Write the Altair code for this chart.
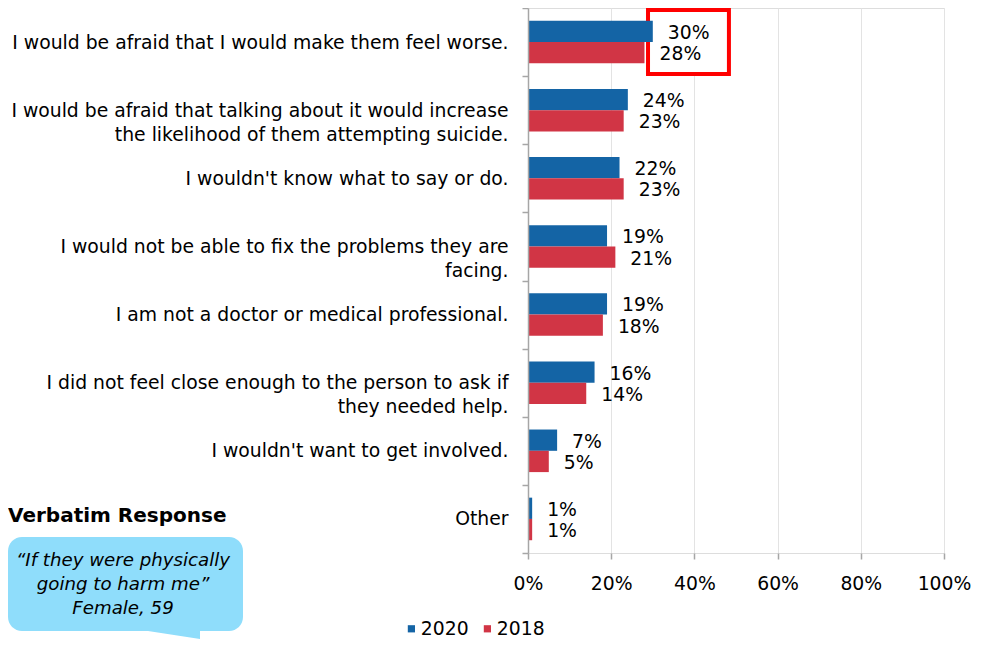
import altair as alt
import pandas as pd

categories = [
    "I would be afraid that I would make them feel worse.",
    "I would be afraid that talking about it would increase|the likelihood of them attempting suicide.",
    "I wouldn't know what to say or do.",
    "I would not be able to fix the problems they are|facing.",
    "I am not a doctor or medical professional.",
    "I did not feel close enough to the person to ask if|they needed help.",
    "I wouldn't want to get involved.",
    "Other",
]
values_2020 = [30, 24, 22, 19, 19, 16, 7, 1]
values_2018 = [28, 23, 23, 21, 18, 14, 5, 1]
years = ["2020", "2018"]
year_colors = ["#1464A5", "#D13545"]
x_ticks = [0, 20, 40, 60, 80, 100]
highlight_category = [categories[0]]
highlight_start = [28.85]
highlight_end = [48.3]
verbatim_title = "Verbatim Response"
verbatim_lines = ["\u201cIf they were physically", "going to harm me\u201d", "Female, 59"]

FONT = "DejaVu Sans"
FS = 18.8

rows = []
for c, v20, v18 in zip(categories, values_2020, values_2018):
    rows.append({"category": c, "year": "2020", "value": v20, "label": f"{v20}%"})
    rows.append({"category": c, "year": "2018", "value": v18, "label": f"{v18}%"})
df = pd.DataFrame(rows)

hl = pd.DataFrame({"category": highlight_category, "x0": highlight_start, "x1": highlight_end})

y_enc = alt.Y(
    "category:N",
    sort=categories,
    scale=alt.Scale(paddingInner=0, paddingOuter=0),
    axis=alt.Axis(
        title=None,
        labelExpr="split(datum.label, '|')",
        labelFontSize=FS,
        labelFont=FONT,
        labelLimit=700,
        labelLineHeight=24,
        labelColor="#000000",
        domainColor="#A6A6A6",
        domainWidth=1.5,
        tickColor="#A6A6A6",
        tickWidth=1.5,
        tickSize=6,
        labelPadding=14,
        tickBand="extent",
        grid=False,
    ),
)

y_off = alt.YOffset(
    "year:N", sort=years,
    scale=alt.Scale(domain=years, paddingInner=0, paddingOuter=0.6),
)

x_scale = alt.Scale(domain=[0, 100], nice=False)
x_axis = alt.Axis(
    values=x_ticks,
    labelExpr="datum.value + '%'",
    title=None,
    grid=True,
    gridColor="#E3E3E3",
    gridWidth=1,
    domain=False,
    tickColor="#A6A6A6",
    tickWidth=1.5,
    tickSize=6,
    labelFontSize=FS,
    labelFont=FONT,
    labelColor="#000000",
    labelPadding=15,
    labelFlush=False,
)

box = alt.Chart(hl).mark_rect(
    height=64, fill="#FFFFFF", stroke="#FF0000", strokeWidth=4
).encode(
    x=alt.X("x0:Q", scale=x_scale, axis=x_axis),
    x2="x1:Q",
    y=y_enc,
)

bars = alt.Chart(df).mark_bar().encode(
    x=alt.X("value:Q", scale=x_scale, axis=x_axis),
    y=y_enc,
    yOffset=y_off,
    color=alt.Color(
        "year:N",
        sort=years,
        scale=alt.Scale(domain=years, range=year_colors),
        legend=alt.Legend(
            orient="none",
            legendX=-126,
            legendY=611,
            direction="horizontal",
            title=None,
            symbolType="square",
            symbolSize=52,
            symbolStrokeWidth=0,
            labelFontSize=FS,
            labelFont=FONT,
            labelColor="#000000",
            columnPadding=9,
            labelOffset=0,
            padding=0,
        ),
    ),
)

labels = alt.Chart(df).mark_text(
    align="left", baseline="middle", dx=15, dy=1.5, fontSize=FS, font=FONT, color="#000000"
).encode(
    x=alt.X("value:Q", scale=x_scale, axis=x_axis),
    y=y_enc,
    yOffset=y_off,
    text="label:N",
)

ann_src = pd.DataFrame({"k": [0]})

title_txt = alt.Chart(ann_src).mark_text(
    align="left", baseline="middle", fontSize=20, fontWeight="bold", font=FONT, color="#000000"
).encode(x=alt.value(-520), y=alt.value(508), text=alt.value(verbatim_title))

bubble = alt.Chart(ann_src).mark_rect(cornerRadius=14, color="#8FDDFB").encode(
    x=alt.value(-520), x2=alt.value(-285), y=alt.value(529), y2=alt.value(623)
)

tail = alt.Chart(ann_src).mark_point(
    shape="M -1 -0.17 L 1 -0.17 L 1 0.138 Z", filled=True, size=4225, opacity=1,
    color="#8FDDFB", strokeWidth=0,
).encode(x=alt.value(-360.5), y=alt.value(626.5))

bubble_txt = alt.Chart(ann_src).mark_text(
    align="center", baseline="middle", fontSize=18.2, fontStyle="italic", font=FONT,
    color="#000000", lineHeight=24,
).encode(x=alt.value(-405), y=alt.value(553), text=alt.value(verbatim_lines))

chart = alt.layer(box, bars, labels, bubble, tail, title_txt, bubble_txt).properties(
    width=416,
    height=545,
    padding={"left": 520, "top": 0, "right": 30, "bottom": 86},
    autosize=alt.AutoSizeParams(type="none"),
).configure_view(stroke=None).configure(font=FONT)

chart.save("out.html", embed_options={"renderer": "svg", "actions": False})
